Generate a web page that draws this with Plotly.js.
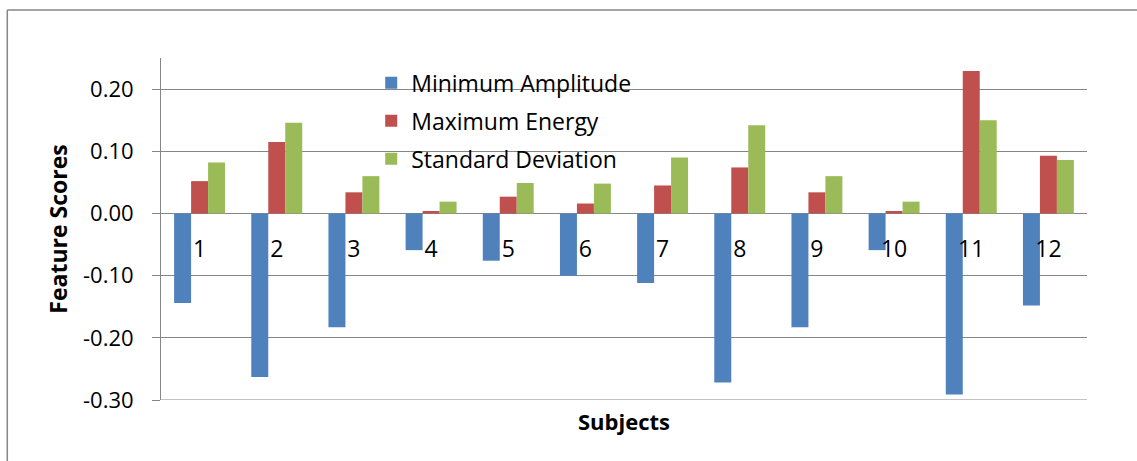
<!DOCTYPE html>
<html>
<head>
<meta charset="utf-8">
<script src="https://cdn.plot.ly/plotly-3.0.1.min.js"></script>
<style>html,body{margin:0;padding:0;background:#fff;}#chart{width:1137px;height:461px;}</style>
</head>
<body>
<div id="chart"></div>
<script>
const subjects = ["1","2","3","4","5","6","7","8","9","10","11","12"];
const minimumAmplitude = [-0.144,-0.263,-0.183,-0.059,-0.076,-0.100,-0.112,-0.272,-0.183,-0.059,-0.291,-0.148];
const maximumEnergy = [0.052,0.115,0.034,0.004,0.027,0.016,0.045,0.074,0.034,0.004,0.229,0.093];
const standardDeviation = [0.082,0.146,0.060,0.019,0.049,0.048,0.090,0.142,0.060,0.019,0.150,0.086];
const yTicks = [-0.30,-0.20,-0.10,0.00,0.10,0.20];
const yRange = [-0.30,0.25];

const font = "Open Sans, Liberation Sans, sans-serif";
const mk = (name, y, color, grp) => ({
  type: "bar", name: name, x: subjects, y: y, legendgroup: grp,
  marker: {color: color, line: {width: 0}}
});
const data = [
  mk("Minimum Amplitude", minimumAmplitude, "#4f81bd", "a"),
  mk("Maximum Energy", maximumEnergy, "#c0504d", "b"),
  mk("Standard Deviation", standardDeviation, "#9bbb59", "c")
];
const layout = {
  width: 1137, height: 461,
  margin: {l: 161, r: 50, t: 58, b: 61},
  paper_bgcolor: "#fff", plot_bgcolor: "#fff",
  barmode: "group", bargap: 0.34, bargroupgap: 0,
  font: {family: font, size: 22, color: "#000"},
  xaxis: {
    type: "category",
    anchor: "free",
    position: (0 - yRange[0]) / (yRange[1] - yRange[0]),
    showline: false, showgrid: false, zeroline: false,
    ticks: "outside", ticklen: 15, tickcolor: "rgba(0,0,0,0)",
    tickfont: {family: font, size: 23, color: "#000"},
    tickangle: 0
  },
  yaxis: {
    range: yRange,
    tickvals: yTicks,
    ticktext: yTicks.map(v => v.toFixed(2)),
    showgrid: true, gridcolor: "#868686", gridwidth: 1,
    zeroline: true, zerolinecolor: "#868686", zerolinewidth: 1,
    showline: true, linecolor: "#868686", linewidth: 1,
    ticks: "outside", ticklen: 8, tickcolor: "#868686", tickwidth: 1,
    ticklabelstandoff: 14,
    tickfont: {family: font, size: 22, color: "#000"},
    title: {text: "Feature Scores", font: {family: font, size: 23, color: "#000", weight: "bold"}, standoff: 8}
  },
  legend: {
    x: 0.227, y: 0.99, xanchor: "left", yanchor: "top",
    bgcolor: "rgba(0,0,0,0)",
    font: {family: font, size: 23, color: "#000"},
    tracegroupgap: 5, itemwidth: 30
  },
  annotations: [{
    text: "<b>Subjects</b>", xref: "paper", yref: "paper",
    x: 0.5, y: 0, yshift: -21, xanchor: "center", yanchor: "middle",
    showarrow: false, font: {family: font, size: 22, color: "#000"}
  }],
  shapes: [
    {type: "line", xref: "paper", yref: "y", x0: 0, x1: 1, y0: yRange[0], y1: yRange[0], line: {color: "#868686", width: 1}},
    {type: "line", xref: "paper", yref: "paper", x0: -0.166, x1: 1.1, y0: 1.14, y1: 1.14, line: {color: "#868686", width: 1.5}},
    {type: "line", xref: "paper", yref: "paper", x0: -0.166, x1: -0.166, y0: 1.14, y1: -0.2, line: {color: "#868686", width: 1.5}}
  ],
  showlegend: true
};
Plotly.newPlot("chart", data, layout, {displayModeBar: false, staticPlot: true});
</script>
</body>
</html>
